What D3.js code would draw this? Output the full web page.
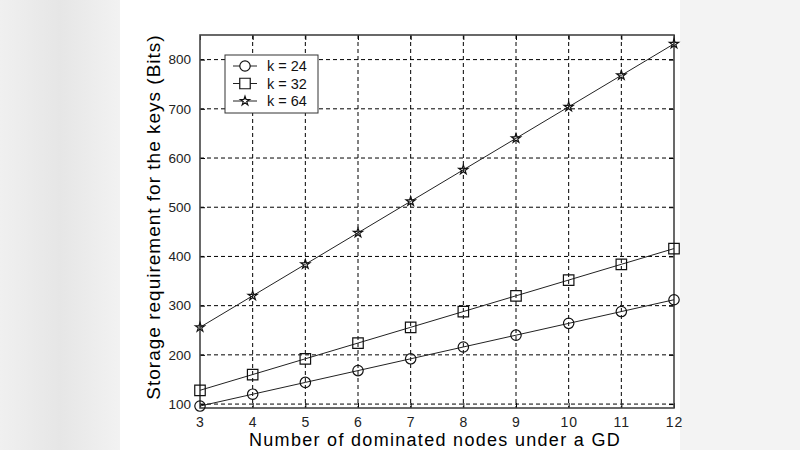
<!DOCTYPE html>
<html>
<head>
<meta charset="utf-8">
<script src="https://cdn.jsdelivr.net/npm/d3@7"></script>
<style>
  html, body { margin: 0; padding: 0; background: #ededed; }
  svg { display: block; font-family: "Liberation Sans", Arial, sans-serif; }
</style>
</head>
<body>
<div id="chart"></div>
<script>
// data
const nodes = [3, 4, 5, 6, 7, 8, 9, 10, 11, 12];
const k24 = [96, 120, 144, 168, 192, 216, 240, 264, 288, 312];
const k32 = [128, 160, 192, 224, 256, 288, 320, 352, 384, 416];
const k64 = [256, 320, 384, 448, 512, 576, 640, 704, 768, 832];
const seriesNames = ["k = 24", "k = 32", "k = 64"];
const markers = ["circle", "square", "star"];
const yTicks = [100, 200, 300, 400, 500, 600, 700, 800];

const width = 800, height = 450;
const margin = { top: 35, right: 126, bottom: 42, left: 200 };
const innerW = width - margin.left - margin.right;
const innerH = height - margin.top - margin.bottom;

const svg = d3.select("#chart").append("svg")
  .attr("width", width).attr("height", height);

// background panels
const bg = svg.append("defs").append("linearGradient").attr("id", "lg");
bg.append("stop").attr("offset", "0%").attr("stop-color", "#f0f0f0");
bg.append("stop").attr("offset", "50%").attr("stop-color", "#e6e6e6");
bg.append("stop").attr("offset", "100%").attr("stop-color", "#f2f2f2");
svg.append("rect").attr("x", 0).attr("y", 0).attr("width", 120).attr("height", height).attr("fill", "url(#lg)");
svg.append("rect").attr("x", 680).attr("y", 0).attr("width", 120).attr("height", height).attr("fill", "#f3f3f3");
svg.append("rect").attr("x", 120).attr("y", 0).attr("width", 560).attr("height", height).attr("fill", "#fff");

const g = svg.append("g").attr("transform", `translate(${margin.left},${margin.top})`);

const x = d3.scaleLinear().domain([3, 12]).range([0, innerW]);
const y = d3.scaleLinear().domain([92, 850]).range([innerH, 0]);

//grid
g.append("g").selectAll("line").data(nodes.slice(1, -1)).join("line")
  .attr("x1", d => x(d)).attr("x2", d => x(d))
  .attr("y1", 0).attr("y2", innerH)
  .attr("stroke", "#000").attr("stroke-width", 1).attr("stroke-dasharray", "4,3");
g.append("g").selectAll("line").data(yTicks).join("line")
  .attr("x1", 0).attr("x2", innerW)
  .attr("y1", d => y(d)).attr("y2", d => y(d))
  .attr("stroke", "#000").attr("stroke-width", 1).attr("stroke-dasharray", "4,3");

// axes, ticks inside
const tickFmt = d3.format("d");
const xAx = g.append("g").attr("transform", `translate(0,${innerH})`)
  .call(d3.axisBottom(x).tickValues(nodes).tickFormat(tickFmt).tickSizeInner(-5).tickSizeOuter(0).tickPadding(9))
  .call(a => a.select(".domain").remove());
xAx.attr("font-size", 14);
xAx.selectAll("text").attr("letter-spacing", "1px").attr("fill", "#222");
const yAx = g.append("g")
  .call(d3.axisLeft(y).tickValues(yTicks).tickFormat(tickFmt).tickSizeInner(-5).tickSizeOuter(0).tickPadding(9))
  .call(a => a.select(".domain").remove());
yAx.attr("font-size", 13.5);
yAx.selectAll("text").attr("fill", "#222");
g.append("g")
  .call(d3.axisTop(x).tickValues(nodes).tickFormat("").tickSizeInner(-5).tickSizeOuter(0))
  .call(a => a.select(".domain").remove());
g.append("g").attr("transform", `translate(${innerW},0)`)
  .call(d3.axisRight(y).tickValues(yTicks).tickFormat("").tickSizeInner(-5).tickSizeOuter(0))
  .call(a => a.select(".domain").remove());
g.selectAll(".tick line").attr("stroke", "#000");

g.append("rect").attr("width", innerW).attr("height", innerH)
  .attr("fill", "none").attr("stroke", "#444").attr("stroke-width", 1.6);

// series
const series = [k24, k32, k64].map((vals, i) => ({
  name: seriesNames[i], marker: markers[i],
  points: nodes.map((n, j) => ({ n, v: vals[j] }))
}));

const line = d3.line().x(d => x(d.n)).y(d => y(d.v));
const symbolFor = m => m === "circle" ? d3.symbol(d3.symbolCircle, 85)
  : m === "square" ? d3.symbol(d3.symbolSquare, 110)
  : d3.symbol(d3.symbolStar, 26);

for (const s of series) {
  g.append("path").datum(s.points).attr("d", line)
    .attr("fill", "none").attr("stroke", "#222").attr("stroke-width", 1);
  g.append("g").selectAll("path").data(s.points).join("path")
    .attr("transform", d => `translate(${x(d.n)},${y(d.v)})`)
    .attr("d", symbolFor(s.marker)())
    .attr("fill", "none").attr("stroke", "#111").attr("stroke-width", 1.2);
}

//legend
const lg = svg.append("g").attr("transform", "translate(225,55)");
lg.append("rect").attr("width", 93).attr("height", 58)
  .attr("fill", "#fff").attr("stroke", "#333").attr("stroke-width", 1);
series.forEach((s, i) => {
  const yy = 11 + i * 17.5;
  lg.append("line").attr("x1", 8).attr("x2", 32).attr("y1", yy).attr("y2", yy)
    .attr("stroke", "#222");
  lg.append("path").attr("transform", `translate(20,${yy})`)
    .attr("d", symbolFor(s.marker)()).attr("fill", "#fff").attr("stroke", "#111").attr("stroke-width", 1.2);
  lg.append("text").attr("x", 42).attr("y", yy).attr("dy", "0.35em")
    .attr("font-size", 14.5).attr("fill", "#111").text(s.name);
});

// axis titles
svg.append("text").attr("x", 435).attr("y", 446)
  .attr("text-anchor", "middle").attr("font-size", 18).attr("letter-spacing", "1.3px").attr("fill", "#000")
  .text("Number of dominated nodes under a GD");
svg.append("text").attr("transform", "translate(160,217) rotate(-90)")
  .attr("text-anchor", "middle").attr("font-size", 19).attr("letter-spacing", "1px").attr("fill", "#000")
  .text("Storage requirement for the keys (Bits)");
</script>
</body>
</html>
